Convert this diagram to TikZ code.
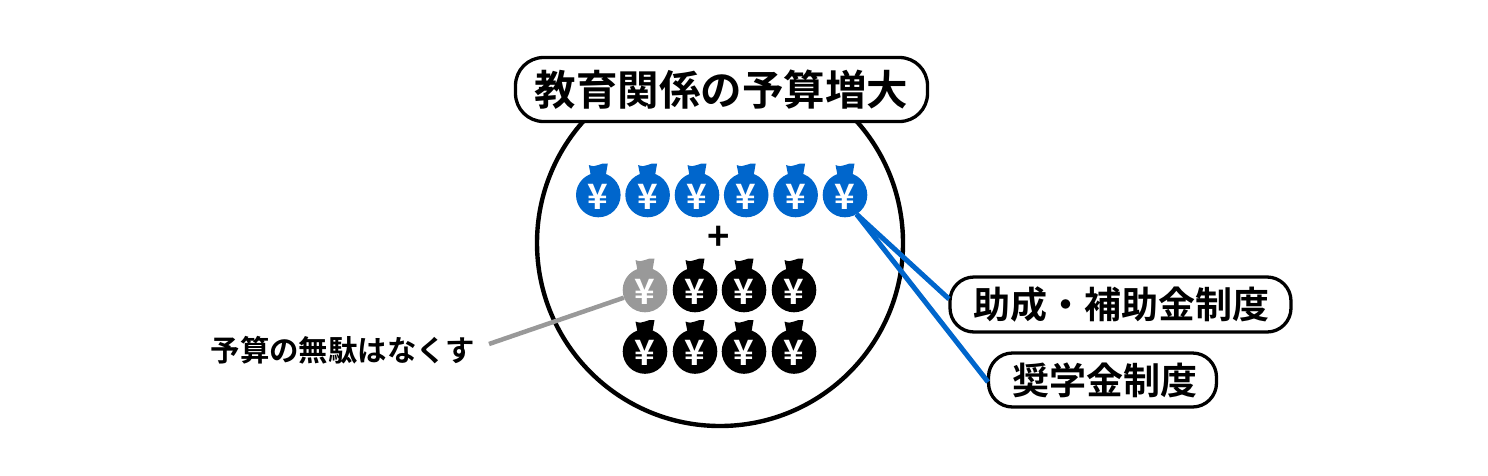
\documentclass[tikz,border=0pt]{standalone}
\usepackage{fontspec}
\newfontfamily\cjk[BoldFont={Noto Sans CJK JP Bold}]{Noto Sans CJK JP}
\definecolor{bagblue}{HTML}{0066CC}
\definecolor{baggray}{HTML}{999999}
\tikzset{
  moneybag/.style={circle,fill=#1,draw=none,minimum size=44.6pt,inner sep=0pt,text=white},
  yenmark/.style={text=white,inner sep=0pt,font=\cjk\bfseries\fontsize{35pt}{35pt}\selectfont},
  pillbox/.style={draw=black,line width=3.3pt,rounded corners=#1,fill=white,inner sep=0pt,text=black},
  bluelink/.style={draw=bagblue,line width=5pt},
  graylink/.style={draw=baggray,line width=4.5pt},
}
\newcommand{\bag}[4]{%
  \fill[#4] (#2-9.5,#3-30) .. controls (#2-6,#3-28.5) and (#2-3,#3-28.5) .. (#2+0,#3-30)
     .. controls (#2+3,#3-31.5) and (#2+6,#3-32) .. (#2+9.5,#3-31.5)
     -- (#2+7,#3-17) -- (#2-7,#3-17) -- cycle;
  \node[moneybag=#4] (#1) at (#2,#3) {};
  \node[yenmark] (#1y) at (#2,#3+1.5) {¥};
}
\begin{document}
\begin{tikzpicture}[x=1pt,y=-1pt]
\useasboundingbox (0,0) rectangle (1488,475);
\node[circle,draw=black,line width=4.4pt,minimum size=366pt,inner sep=0pt] (ring) at (720,243) {};
\bag{b1}{598.3}{195}{bagblue}
\bag{b2}{647.6}{195}{bagblue}
\bag{b3}{697}{195}{bagblue}
\bag{b4}{746.2}{195}{bagblue}
\bag{b5}{795.6}{195}{bagblue}
\bag{b6}{845}{195}{bagblue}
\bag{c1}{645}{290}{baggray}
\bag{c2}{695}{290}{black}
\bag{c3}{744}{290}{black}
\bag{c4}{794}{290}{black}
\bag{d1}{645}{351.5}{black}
\bag{d2}{695}{351.5}{black}
\bag{d3}{744}{351.5}{black}
\bag{d4}{794}{351.5}{black}
\node[inner sep=0pt,font=\cjk\bfseries\fontsize{38pt}{38pt}\selectfont] (plus) at (719,238) {+};
\node[pillbox=28pt,minimum width=412pt,minimum height=64pt,font=\cjk\bfseries\fontsize{41.5pt}{41.5pt}\selectfont] (title) at (721.5,89.5) {教育関係の予算増大};
\node[pillbox=24pt,minimum width=341pt,minimum height=55pt,font=\cjk\bfseries\fontsize{37pt}{37pt}\selectfont] (subsidy) at (1120.5,304.5) {\hspace{1pt}助成・補助金制度};
\node[pillbox=24pt,minimum width=228pt,minimum height=54pt,font=\cjk\bfseries\fontsize{37pt}{37pt}\selectfont] (scholar) at (1102.5,380) {\hspace{5pt}奨学金制度};
\node[inner sep=0pt,font=\cjk\bfseries\fontsize{29.4pt}{29.4pt}\selectfont] (waste) at (343,350) {予算の無駄はなくす};
\coordinate (wasteend) at (489,344);
\coordinate (subsidyend) at (949,299);
\coordinate (scholarend) at (988,382);
\draw[bluelink] (b6.-59) -- (subsidyend);
\draw[bluelink] (b6.-59) -- (scholarend);
\draw[graylink] (c1.200) -- (wasteend);
\end{tikzpicture}
\end{document}
